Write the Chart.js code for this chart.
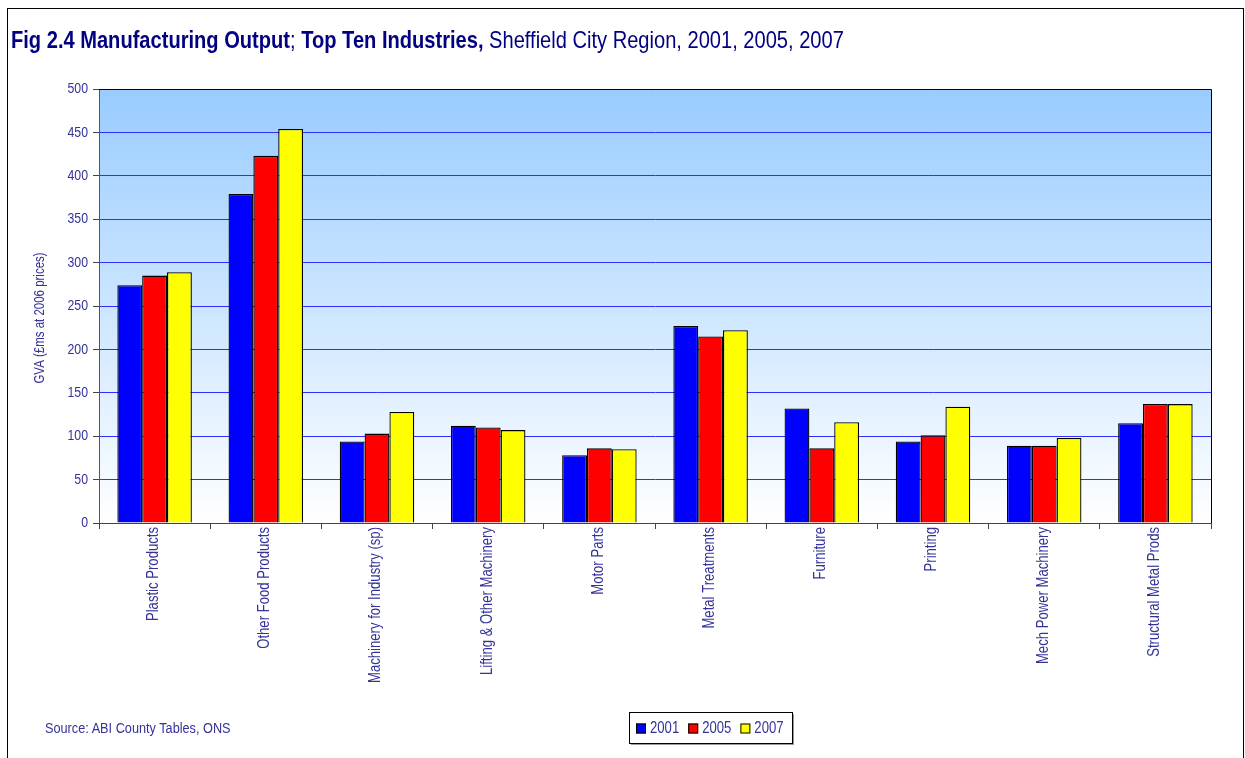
<!DOCTYPE html>
<html>
<head>
<meta charset="utf-8">
<script src="https://cdn.jsdelivr.net/npm/chart.js@4/dist/chart.umd.min.js"></script>
<style>
  html, body { margin: 0; padding: 0; background: #fff; }
  #wrap { position: relative; width: 1245px; height: 758px; overflow: hidden; }
  #frame { position: absolute; left: 7px; top: 8px; width: 1237px; height: 800px; border: 1px solid #000; box-sizing: border-box; pointer-events: none; }
  .narrow { position: absolute; white-space: nowrap; font-family: "Liberation Sans", Arial, sans-serif;
            transform: scaleX(0.82); transform-origin: 0 50%; }
  #title { left: 11px; top: 27px; line-height: 26px; font-size: 24.5px; color: #000080; }
  #title b { font-weight: bold; }
  #source { left: 45px; top: 719px; line-height: 18px; font-size: 15.5px; color: #333399; }
  canvas { position: absolute; left: 0; top: 0; }
</style>
</head>
<body>
<div id="wrap">
  <canvas id="c" width="1245" height="758"></canvas>
  <div id="frame"></div>
  <div id="title" class="narrow"><b>Fig 2.4 Manufacturing Output</b>; <b>Top Ten Industries,</b> Sheffield City Region, 2001, 2005, 2007</div>
  <div id="source" class="narrow">Source: ABI County Tables, ONS</div>
</div>
<script>
// Industries (x categories)
const industries = [
  'Plastic Products', 'Other Food Products', 'Machinery for Industry (sp)',
  'Lifting & Other Machinery', 'Motor Parts', 'Metal Treatments', 'Furniture',
  'Printing', 'Mech Power Machinery', 'Structural Metal Prods'
];
// Series labels
const years = ['2001', '2005', '2007'];
// GVA, £ms at 2006 prices
const gva2001 = [274, 379, 94, 112, 78, 227, 132, 94, 89, 115];
const gva2005 = [285, 423, 103, 110, 86, 215, 86, 101, 89, 137];
const gva2007 = [289, 454, 128, 107, 85, 222, 116, 134, 98, 137];
// Value axis
const yMin = 0, yMax = 500, yStep = 50;
const yTitle = 'GVA (£ms at 2006 prices)';

const seriesColours = ['#0000FF', '#FF0000', '#FFFF00'];
const sans = '"Liberation Sans", Arial, sans-serif';
const squeeze = 0.82;            // horizontal compression for the narrow face
const textColour = '#333399';

// Draw text in a condensed style, optionally rotated
function narrowText(ctx, text, x, y, size, align, baseline, angle) {
  ctx.save();
  ctx.translate(x, y);
  if (angle) ctx.rotate(angle);
  ctx.scale(squeeze, 1);
  ctx.font = size + 'px ' + sans;
  ctx.textAlign = align;
  ctx.textBaseline = baseline;
  ctx.fillStyle = textColour;
  ctx.fillText(text, 0, 0);
  const w = ctx.measureText(text).width * squeeze;
  ctx.restore();
  return w;
}

const plotDecor = {
  id: 'plotDecor',
  beforeDraw(chart) {
    const { ctx, chartArea: a } = chart;
    const g = ctx.createLinearGradient(0, a.top, 0, a.bottom);
    g.addColorStop(0, '#99CCFF');
    g.addColorStop(1, '#FFFFFF');
    ctx.save();
    ctx.fillStyle = g;
    ctx.fillRect(a.left, a.top, a.right - a.left, a.bottom - a.top);
    ctx.restore();
  },
  afterDraw(chart) {
    const { ctx, chartArea: a } = chart;
    const xs = chart.scales.x, ys = chart.scales.y;

    // top and right plot border
    ctx.save();
    ctx.strokeStyle = '#000';
    ctx.lineWidth = 1;
    ctx.beginPath();
    ctx.moveTo(a.left, a.top + 0.5);
    ctx.lineTo(a.right + 0.5, a.top + 0.5);
    ctx.lineTo(a.right + 0.5, a.bottom);
    ctx.stroke();
    ctx.restore();

    // value axis tick labels
    ys.ticks.forEach(t => {
      narrowText(ctx, String(t.value), a.left - 11, ys.getPixelForValue(t.value), 15, 'right', 'middle', 0);
    });

    // category labels, reading upward from the axis
    chart.data.labels.forEach((lab, i) => {
      narrowText(ctx, lab, xs.getPixelForTick(i) - 1, a.bottom + 4, 16, 'right', 'middle', -Math.PI / 2);
    });

    // value axis title
    narrowText(ctx, yTitle, 40, a.bottom - 205, 14, 'center', 'middle', -Math.PI / 2);

    // legend box
    const lx = 629, ly = 712, lw = 163, lh = 31;
    ctx.save();
    ctx.fillStyle = '#9a9a9a';
    ctx.fillRect(lx + 2, ly + 2, lw, lh);
    ctx.fillStyle = '#fff';
    ctx.fillRect(lx, ly, lw, lh);
    ctx.strokeStyle = '#000';
    ctx.lineWidth = 1;
    ctx.strokeRect(lx + 0.5, ly + 0.5, lw, lh);
    ctx.restore();
    let x = lx + 7;
    const cy = ly + lh / 2 + 1;
    chart.data.datasets.forEach(ds => {
      ctx.save();
      ctx.fillStyle = ds.backgroundColor;
      ctx.fillRect(x, cy - 5, 10, 10);
      ctx.strokeStyle = '#000';
      ctx.lineWidth = 1;
      ctx.strokeRect(x + 0.5, cy - 4.5, 9, 9);
      ctx.restore();
      const w = narrowText(ctx, ds.label, x + 14, cy, 16, 'left', 'middle', 0);
      x += 14 + w + 9;
    });
  }
};

new Chart(document.getElementById('c'), {
  type: 'bar',
  data: {
    labels: industries,
    datasets: [gva2001, gva2005, gva2007].map((d, i) => ({
      label: years[i],
      data: d,
      backgroundColor: seriesColours[i],
      borderColor: '#000',
      borderWidth: 1.3,
      categoryPercentage: 0.67,
      barPercentage: 1.0
    }))
  },
  options: {
    responsive: false,
    animation: false,
    devicePixelRatio: 1,
    layout: { padding: { left: 0, top: 89, right: 34, bottom: 0 } },
    plugins: { legend: { display: false }, tooltip: { enabled: false } },
    scales: {
      y: {
        min: yMin, max: yMax,
        ticks: { stepSize: yStep, display: false },
        grid: { color: '#2F2FFF', lineWidth: 1, tickColor: '#444', tickLength: 6 },
        border: { display: true, color: '#555', width: 1 },
        afterFit(s) { s.width = 99; }
      },
      x: {
        ticks: { display: false, autoSkip: false },
        grid: { drawOnChartArea: false, offset: true, tickColor: '#444', tickLength: 6 },
        border: { display: true, color: '#444', width: 1 },
        afterFit(s) { s.height = 235; }
      }
    }
  },
  plugins: [plotDecor]
});
</script>
</body>
</html>
